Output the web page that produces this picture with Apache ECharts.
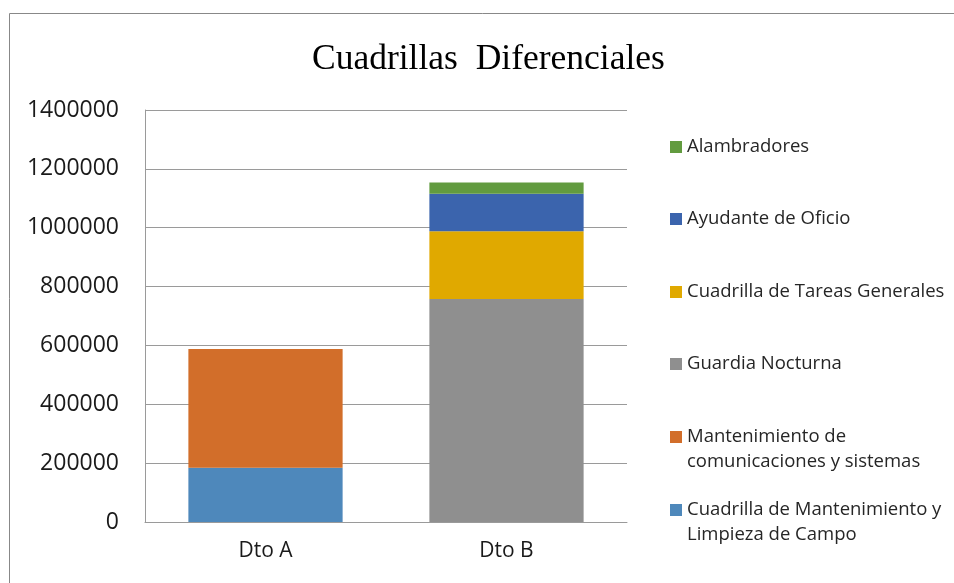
<!DOCTYPE html>
<html>
<head>
<meta charset="utf-8">
<script src="https://cdn.jsdelivr.net/npm/echarts@6/dist/echarts.min.js"></script>
<style>
  html, body { margin: 0; padding: 0; background: #fff; }
  #main { width: 954px; height: 583px; }
</style>
</head>
<body>
<div id="main"></div>
<script>
// datos
var categorias = ['Dto A', 'Dto B'];
var nombres = [
    'Cuadrilla de Mantenimiento y\nLimpieza de Campo',
    'Mantenimiento de\ncomunicaciones y sistemas',
    'Guardia Nocturna',
    'Cuadrilla de Tareas Generales',
    'Ayudante de Oficio',
    'Alambradores'
];
var mantLimpieza = [184000, 0];
var mantComunicaciones = [404000, 0];
var guardiaNocturna = [0, 758000];
var tareasGenerales = [0, 230000];
var ayudanteOficio = [0, 127000];
var alambradores = [0, 39000];
var ticksY = [0, 200000, 400000, 600000, 800000, 1000000, 1200000, 1400000];

var valores = [mantLimpieza, mantComunicaciones, guardiaNocturna, tareasGenerales, ayudanteOficio, alambradores];
var colores = ['#4E88BB', '#D26E2A', '#8F8F8F', '#E0A900', '#3B64AD', '#629B3F'];

var myChart = echarts.init(document.getElementById('main'));

var series = [];
for (var i = 0; i < nombres.length; i++) {
    series.push({
        name: nombres[i],
        type: 'bar',
        stack: 'total',
        barWidth: '64%',
        data: valores[i],
        itemStyle: { color: colores[i] },
        emphasis: { disabled: true }
    });
}

// una leyenda por elemento, para colocarlas como en Excel
var posLeyenda = [472.5, 399.5, 351.5, 279.5, 206.5, 134.5]; // top de cada una
var leyendas = [];
for (var i = 0; i < nombres.length; i++) {
    leyendas.push({
        data: [nombres[i]],
        left: 670,
        top: posLeyenda[i],
        padding: 0,
        orient: 'vertical',
        itemWidth: 12,
        itemHeight: 12,
        itemGap: 0,
        icon: 'rect',
        selectedMode: false,
        // linea vacia arriba para que el cuadrito quede en la primera linea
        formatter: function (name) {
            return name.indexOf('\n') >= 0 ? '\n' + name : name;
        },
        textStyle: {
            fontFamily: 'Open Sans',
            fontSize: 18.5,
            color: '#262626',
            lineHeight: 25
        }
    });
}

var option = {
    animation: false,
    title: {
        text: 'Cuadrillas  Diferenciales',
        left: 312,
        top: 42,
        padding: 0,
        textStyle: {
            fontFamily: 'Liberation Serif',
            fontWeight: 'normal',
            fontSize: 35.5,
            color: '#000'
        }
    },
    legend: leyendas,
    grid: {
        left: 145,
        right: 327,
        top: 110,
        bottom: 61
    },
    xAxis: {
        type: 'category',
        data: categorias,
        axisLine: { lineStyle: { color: '#9A9A9A', width: 1 } },
        axisTick: { show: false },
        axisLabel: {
            fontFamily: 'Open Sans',
            fontSize: 21,
            color: '#1a1a1a',
            margin: 19
        }
    },
    yAxis: {
        type: 'value',
        min: ticksY[0],
        max: ticksY[ticksY.length - 1],
        interval: ticksY[1] - ticksY[0],
        axisLine: { show: true, lineStyle: { color: '#9A9A9A', width: 1 } },
        axisTick: { show: false },
        splitLine: { lineStyle: { color: '#9A9A9A', width: 1 } },
        axisLabel: {
            fontFamily: 'Open Sans',
            fontSize: 23,
            color: '#1a1a1a',
            margin: 26,
            formatter: function (v) { return String(v); }
        }
    },
    graphic: [{
        type: 'rect',
        shape: { x: 9.5, y: 13.5, width: 1000, height: 620 },
        style: { fill: null, stroke: '#888', lineWidth: 1 },
        silent: true,
        z: -1
    }],
    series: series
};

myChart.setOption(option);
</script>
</body>
</html>
